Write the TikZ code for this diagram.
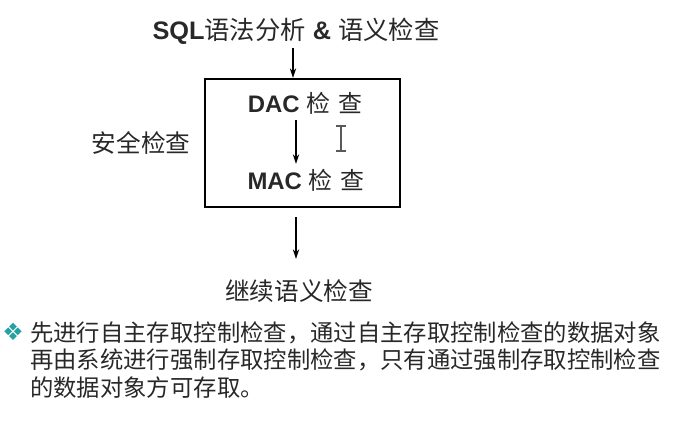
\documentclass[tikz,border=0pt]{standalone}
\usepackage{fontspec}
\setmainfont{Liberation Sans}
\newfontfamily\cjk{Noto Sans CJK SC}
\newfontfamily\symfont{DejaVu Sans}
\usetikzlibrary{arrows.meta, positioning}
\definecolor{bulletteal}{RGB}{38,160,160}
\definecolor{textgray}{RGB}{40,40,40}

\begin{document}
\begin{tikzpicture}[
  x=0.025cm, y=-0.025cm,
  txt/.style={inner sep=0pt, text=textgray, font=\fontsize{17}{20}\selectfont},
  checkbox/.style={rectangle, draw=black, line width=1.4pt,
                   minimum width=4.875cm, minimum height=3.2cm, inner sep=0pt},
  arr/.style={-{Stealth[length=7pt, width=4.5pt]}, line width=1pt, black},
]
\useasboundingbox (0,0) rectangle (674,420);

%% Top step
\node[txt, font=\fontsize{18}{20}\selectfont] (parse) at (296,31)
  {\textbf{SQL}{\cjk 语法分析} \textbf{\&} {\cjk 语义检查}};

%% Security check box
\node[checkbox] (secbox) at (302.5,143) {};
\node[txt] (dac) at (305,103) {\textbf{DAC} {\cjk 检\,\,查}};
\node[txt] (mac) at (306,180) {\textbf{MAC} {\cjk 检\,\,查}};
\node[txt, font=\cjk\fontsize{17.5}{20}\selectfont] (seclbl) at (141,143) {安全检查};

%% Next step
\node[txt, font=\cjk\fontsize{17.5}{20}\selectfont] (next) at (299,291) {继续语义检查};

%% Arrow ends
\coordinate (a0) at (293,48);
\coordinate (a1) at (296,120);
\coordinate (a1e) at (296,164);
\coordinate (a2) at (296,217);
\coordinate (a2e) at (296,259);

%% Arrows
\draw[arr] (a0) -- (a0 |- secbox.north);
\draw[arr] (a1) -- (a1e);
\draw[arr] (a2) -- (a2e);

%% Text cursor
\draw[black!65, line width=0.9pt] (336,126) -- (346,126) (341,126) -- (341,151) (336,151) -- (346,151);

%% Bullet text
\node[text=bulletteal, inner sep=0pt, font=\symfont\fontsize{17}{17}\selectfont] (bullet) at (13,332) {❖};
\node[txt, anchor=north west, align=left,
      font=\cjk\fontsize{16.6}{19.6}\selectfont] (note) at (30,321)
  {先进行自主存取控制检查，通过自主存取控制检查的数据对象\\
   再由系统进行强制存取控制检查，只有通过强制存取控制检查\\
   的数据对象方可存取。};

\end{tikzpicture}
\end{document}
